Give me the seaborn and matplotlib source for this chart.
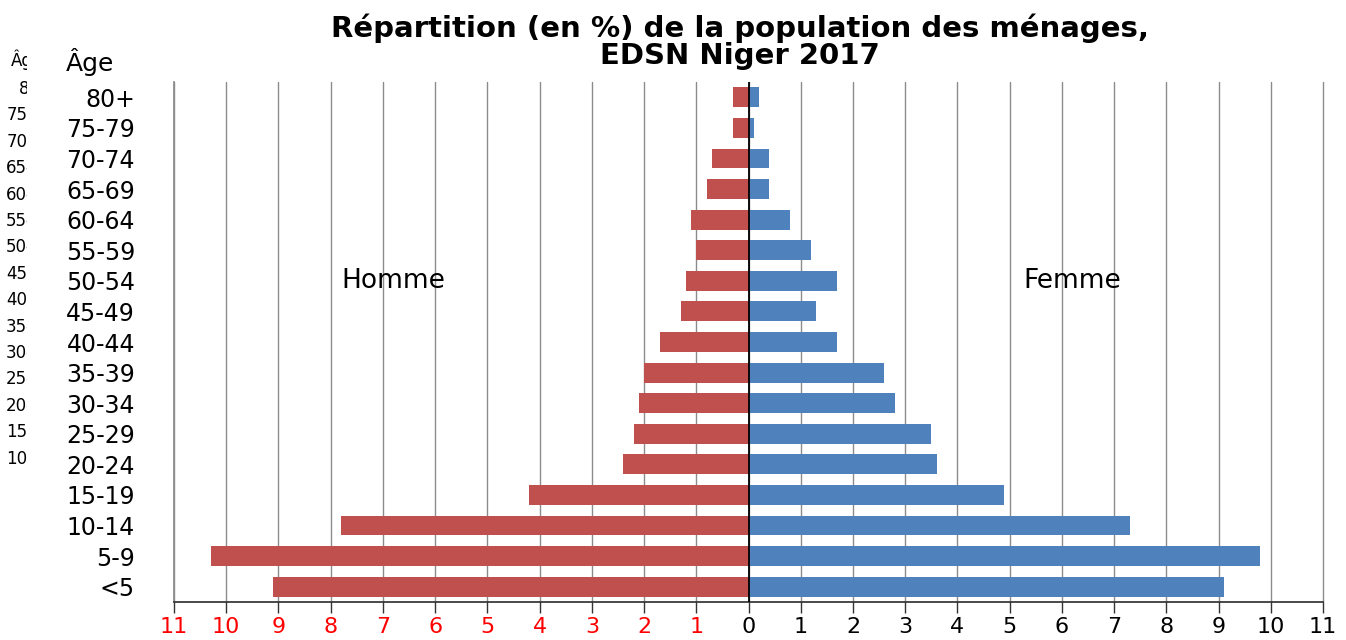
import matplotlib
matplotlib.use("Agg")
import matplotlib.pyplot as plt
import seaborn as sns
import pandas as pd
import numpy as np

# tranches d'âge, du haut vers le bas
ages = ['80+', '75-79', '70-74', '65-69', '60-64', '55-59', '50-54', '45-49',
        '40-44', '35-39', '30-34', '25-29', '20-24', '15-19', '10-14', '5-9', '<5']
homme = [0.3, 0.3, 0.7, 0.8, 1.1, 1.0, 1.2, 1.3, 1.7, 2.0, 2.1, 2.2, 2.4,
         4.2, 7.8, 10.3, 9.1]
femme = [0.2, 0.1, 0.4, 0.4, 0.8, 1.2, 1.7, 1.3, 1.7, 2.6, 2.8, 3.5, 3.6,
         4.9, 7.3, 9.8, 9.1]
xticks = list(range(-11, 12))
# reste d'un autre graphique, coupé à gauche
ghost = ['80+', '75-79', '70-74', '65-69', '60-64', '55-59', '50-54',
         '45-49', '40-44', '35-39', '30-34', '25-29', '20-24', '15-19', '10-14']

sns.set_theme(style='white')
plt.rcParams['font.family'] = ['DejaVu Sans']
plt.rcParams['text.color'] = 'black'

df = pd.DataFrame({'age': ages * 2,
                   'val': [-v for v in homme] + femme,
                   'sexe': ['Homme'] * len(ages) + ['Femme'] * len(ages)})

fig = plt.figure(figsize=(13.46, 6.4), dpi=100)
ax = fig.add_axes([174/1346, 1-602/640, (1323-174)/1346, 520/640])

sns.barplot(data=df, x='val', y='age', hue='sexe', order=ages,
            palette={'Homme': '#C0504D', 'Femme': '#4F81BD'},
            saturation=1, dodge=False, width=0.65, orient='h', legend=False,
            ax=ax, edgecolor='none')

ax.set_xlim(-11, 11)
ax.set_ylim(len(ages) - 0.5, -0.5)
for x in xticks:
    ax.axvline(x, color='#8c8c8c', lw=1, zorder=0, clip_on=False)
ax.axvline(0, color='black', lw=1.3, zorder=3)

ax.set_xticks(xticks)
ax.set_xticklabels([str(abs(t)) for t in xticks], fontsize=16)
for t, lab in zip(xticks, ax.get_xticklabels()):
    lab.set_color('red' if t < 0 else 'black')
ax.tick_params(axis='x', direction='out', length=8, width=1, color='#333333',
               bottom=True, pad=3)
ax.tick_params(axis='y', length=0, pad=28, labelsize=17, labelcolor='black')
ax.set_xlabel('')
ax.set_ylabel('')

for s in ['top', 'right']:
    ax.spines[s].set_visible(False)
ax.spines['bottom'].set_color('#333333')
ax.spines['left'].set_color('#8c8c8c')

ax.text(-6.8, 6, 'Homme', fontsize=19, ha='center', va='center')
ax.text(6.2, 6, 'Femme', fontsize=19, ha='center', va='center')

fig.text(90/1346, 1-62/640, 'Âge', fontsize=18, ha='center', va='center')
fig.text(740/1346, 1-42/640,
         'Répartition (en %) de la population des ménages,\nEDSN Niger 2017',
         fontsize=21, fontweight='bold', ha='center', va='center',
         linespacing=0.95)

gax = fig.add_axes([0, 0, 27/1346, 1])
gax.set_axis_off()
gax.text(11/27, 1 - 60/640, 'Âge', fontsize=12, ha='left', va='center',
         transform=gax.transAxes, clip_on=True)
for i, g in enumerate(ghost):
    y = 1 - (89 + 26.4 * i) / 640
    gax.text(54/27, y, g, fontsize=12, ha='right', va='center',
             transform=gax.transAxes, clip_on=True)

fig.savefig('out.png', dpi=100)
